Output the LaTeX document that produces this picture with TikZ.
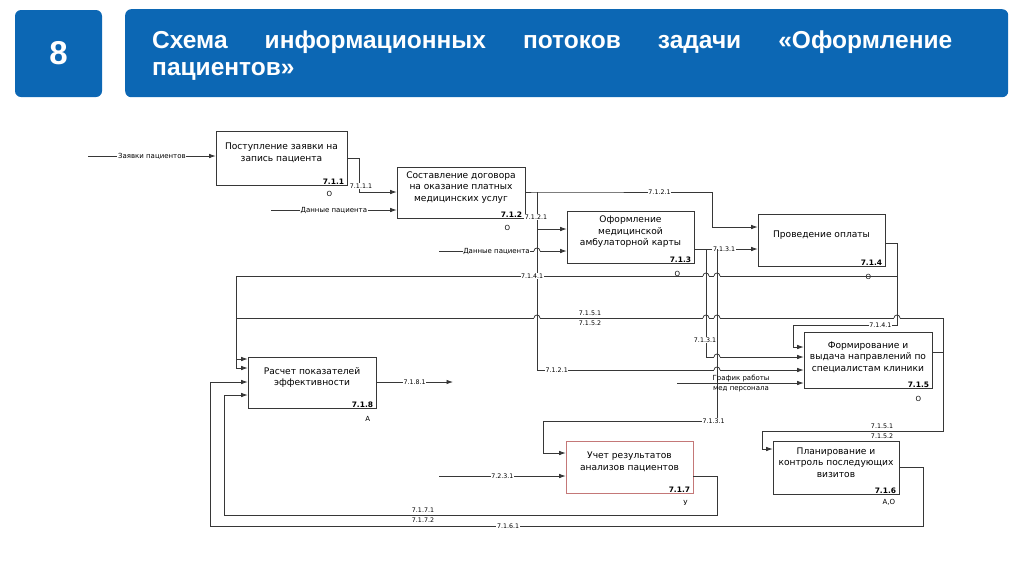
\documentclass[tikz,border=0pt]{standalone}
\usepackage{fontspec}
\setmainfont{DejaVu Sans}
\newfontfamily\titlefont{Liberation Sans}
\usetikzlibrary{positioning,arrows.meta}
\definecolor{slideblue}{RGB}{12,103,180}
\definecolor{redline}{RGB}{196,120,120}
\definecolor{lineclr}{RGB}{55,55,55}

\begin{document}
\begin{tikzpicture}[x=1pt,y=-1pt,
  plate/.style={fill=slideblue,rounded corners=6pt,inner sep=0pt},
  box/.style={draw=lineclr,line width=0.6pt,minimum width=128pt,minimum height=52pt,inner sep=0pt},
  boxtext/.style={align=center,font=\fontsize{9.1}{11.5}\selectfont,inner sep=0pt},
  num/.style={font=\bfseries\fontsize{7.5}{8}\selectfont,inner sep=1pt},
  who/.style={font=\fontsize{7}{8}\selectfont,inner sep=0pt},
  flow/.style={draw=lineclr,line width=0.75pt},
  arr/.style={flow,-{Latex[length=6.5pt,width=4.5pt]}},
  lab/.style={font=\fontsize{6.3}{7}\selectfont,fill=white,inner sep=0.6pt},
  twolab/.style={font=\fontsize{6.3}{7}\selectfont,inner sep=0pt},
  wordlab/.style={font=\fontsize{7}{7.5}\selectfont}]

\useasboundingbox (0,0) rectangle (1024,574);

\node[plate,minimum width=87pt,minimum height=87pt] (num8) at (58.5,53.5)
  {\titlefont\bfseries\fontsize{33}{33}\selectfont\color{white}8};
\node[plate,minimum width=883pt,minimum height=88pt,anchor=north west] (title) at (125,9) {};
\node[text width=800pt,align=justify,anchor=base west,inner sep=0pt,text=white,
  font=\titlefont\bfseries\fontsize{24.5}{27.5}\selectfont] (titletext) at (152,48)
  {Схема информационных потоков задачи «Оформление\linebreak пациентов»};

\node[box,minimum width=131pt,minimum height=54pt] (7_1_1) at (281.5,158) {};
\node[boxtext] (7_1_1t) at ([yshift=5pt]7_1_1.center) {Поступление заявки на\\запись пациента};
\node[num,above left=0pt and 2pt of 7_1_1.south east] (7_1_1n) {7.1.1};
\node[who,below left=5.5pt and 15pt of 7_1_1.south east] (7_1_1w) {О};

\node[box,minimum height=51pt] (7_1_2) at (461,192.5) {};
\node[boxtext] (7_1_2t) at ([yshift=5pt]7_1_2.center) {Составление договора\\на оказание платных\\медицинских услуг};
\node[num,above left=0pt and 2pt of 7_1_2.south east] (7_1_2n) {7.1.2};
\node[who,below left=6.5pt and 15pt of 7_1_2.south east] (7_1_2w) {О};

\node[box,minimum width=127pt] (7_1_3) at (630.5,237) {};
\node[boxtext] (7_1_3t) at ([yshift=5pt]7_1_3.center) {Оформление\\медицинской\\амбулаторной карты};
\node[num,above left=0pt and 2pt of 7_1_3.south east] (7_1_3n) {7.1.3};
\node[who,below left=7.5pt and 14pt of 7_1_3.south east] (7_1_3w) {О};

\node[box,minimum width=127pt] (7_1_4) at (821.5,240) {};
\node[boxtext] (7_1_4t) at ([yshift=5pt]7_1_4.center) {Проведение оплаты};
\node[num,above left=0pt and 2pt of 7_1_4.south east] (7_1_4n) {7.1.4};
\node[who,below left=7.5pt and 14pt of 7_1_4.south east] (7_1_4w) {О};

\node[box,minimum height=56pt] (7_1_5) at (868,360) {};
\node[boxtext] (7_1_5t) at ([yshift=3pt]7_1_5.center) {Формирование и\\выдача направлений по\\специалистам клиники};
\node[num,above left=0pt and 2pt of 7_1_5.south east] (7_1_5n) {7.1.5};
\node[who,below left=7.5pt and 11pt of 7_1_5.south east] (7_1_5w) {О};

\node[box,minimum width=126pt,minimum height=53pt] (7_1_6) at (836,467.5) {};
\node[boxtext] (7_1_6t) at ([yshift=5pt]7_1_6.center) {Планирование и\\контроль последующих\\визитов};
\node[num,above left=0pt and 2pt of 7_1_6.south east] (7_1_6n) {7.1.6};
\node[who,below left=4.5pt and 4pt of 7_1_6.south east] (7_1_6w) {А,О};

\node[box,draw=redline,minimum width=127pt] (7_1_7) at (629.5,467) {};
\node[boxtext] (7_1_7t) at ([yshift=5pt]7_1_7.center) {Учет результатов\\анализов пациентов};
\node[num,above left=0pt and 2pt of 7_1_7.south east] (7_1_7n) {7.1.7};
\node[who,below left=6.5pt and 5.5pt of 7_1_7.south east] (7_1_7w) {У};

\node[box,minimum height=51pt] (7_1_8) at (312,382.5) {};
\node[boxtext] (7_1_8t) at ([yshift=5pt]7_1_8.center) {Расчет показателей\\эффективности};
\node[num,above left=0pt and 2pt of 7_1_8.south east] (7_1_8n) {7.1.8};
\node[who,below left=7.5pt and 6pt of 7_1_8.south east] (7_1_8w) {А};

\coordinate (in_z) at (88,156);
\coordinate (in_d1) at (271,210);
\coordinate (in_d2) at (439,251);
\coordinate (in_g) at (677,383);
\coordinate (in_r) at (439,476);
\coordinate (out_r) at (453,382);
\coordinate (j2) at (537,192);
\coordinate (j706) at (706,249);
\coordinate (j717) at (717,249);
\coordinate (j897) at (897,276);
\coordinate (j943) at (943,352);

\draw[arr] (in_z) -- node[lab,wordlab] (l_z) {Заявки пациентов} (7_1_1.west |- in_z);
\draw[arr] (7_1_1.east |- 0,158) -- ++(12,0) |- (7_1_2.west |- 0,192);
\draw[arr] (in_d1) -- node[lab,wordlab] (l_d1) {Данные пациента} (7_1_2.west |- in_d1);
\draw[arr] (7_1_2.east |- j2) -- (j2) -- node[lab,pos=0.7] (l_7121a) {7.1.2.1} (712,192) |- (7_1_4.west |- 0,227);
\draw[arr] (j2) |- (7_1_3.west |- 0,229);
\draw[arr] (j2) |- node[lab,pos=0.537] (l_7121c) {7.1.2.1} (7_1_5.west |- 0,370);
\draw[arr] (in_d2) -- node[lab,wordlab,pos=0.45] (l_d2) {Данные пациента} (7_1_3.west |- in_d2);
\draw[arr] (7_1_3.east |- j706) -- node[lab,pos=0.47] (l_7131a) {7.1.3.1} (7_1_4.west |- j706);
\draw[arr] (j706) |- (7_1_5.west |- 0,357);
\draw[arr] (j717) |- node[lab,pos=0.51] (l_7131c) {7.1.3.1} (543,421) |- (7_1_7.west |- 0,453);
\draw[arr] (7_1_4.east |- 0,243) -| (j897) -| node[lab,pos=0.276] (l_7141a) {7.1.4.1} (236,359) -- (7_1_8.west |- 0,359);
\draw[arr] (j897) |- node[lab,pos=0.58] (l_7141b) {7.1.4.1} (793,325) |- (7_1_5.west |- 0,347);
\draw[arr] (7_1_5.east |- j943) -| (943,318) -| (236,368) -- (7_1_8.west |- 0,368);
\draw[arr] (j943) |- (762,431) |- (7_1_6.west |- 0,449);
\draw[arr] (7_1_6.east |- 0,467) -| (923,526) -| node[lab,pos=0.291] (l_7161) {7.1.6.1} (210,382) -- (7_1_8.west |- 0,382);
\draw[arr] (7_1_7.east |- 0,476) -| (717,515) -| (224,395) -- (7_1_8.west |- 0,395);
\draw[arr] (7_1_8.east |- out_r) -- node[lab] (l_7181) {7.1.8.1} (out_r);
\draw[arr] (in_r) -- node[lab] (l_7231) {7.2.3.1} (7_1_7.west |- in_r);
\draw[arr] (in_g) -- (7_1_5.west |- in_g);

\foreach \hx/\hy in {537/251,706/276,717/276,537/318,706/318,717/318,897/318,717/357,717/370}{
  \fill[white] (\hx-3,\hy-1) rectangle (\hx+3,\hy+1);
  \draw[flow] (\hx,\hy-2) -- (\hx,\hy+2);
  \draw[flow] (\hx-3,\hy) .. controls (\hx-3,\hy-4) and (\hx+3,\hy-4) .. (\hx+3,\hy);
}

\node[lab] (l_7111) at (361,186) {7.1.1.1};
\node[lab] (l_7121b) at (536,217) {7.1.2.1};
\node[lab] (l_7131b) at (705,340) {7.1.3.1};
\node[twolab] (l_7151a) at (590,313) {7.1.5.1};
\node[twolab] (l_7152a) at (590,323) {7.1.5.2};
\node[twolab] (l_7151b) at (882,426) {7.1.5.1};
\node[twolab] (l_7152b) at (882,436) {7.1.5.2};
\node[twolab] (l_7171) at (423,510) {7.1.7.1};
\node[twolab] (l_7172) at (423,520) {7.1.7.2};
\node[twolab,wordlab] (l_g1) at (741,378) {График работы};
\node[twolab,wordlab] (l_g2) at (741,389) {мед персонала};
\end{tikzpicture}
\end{document}
